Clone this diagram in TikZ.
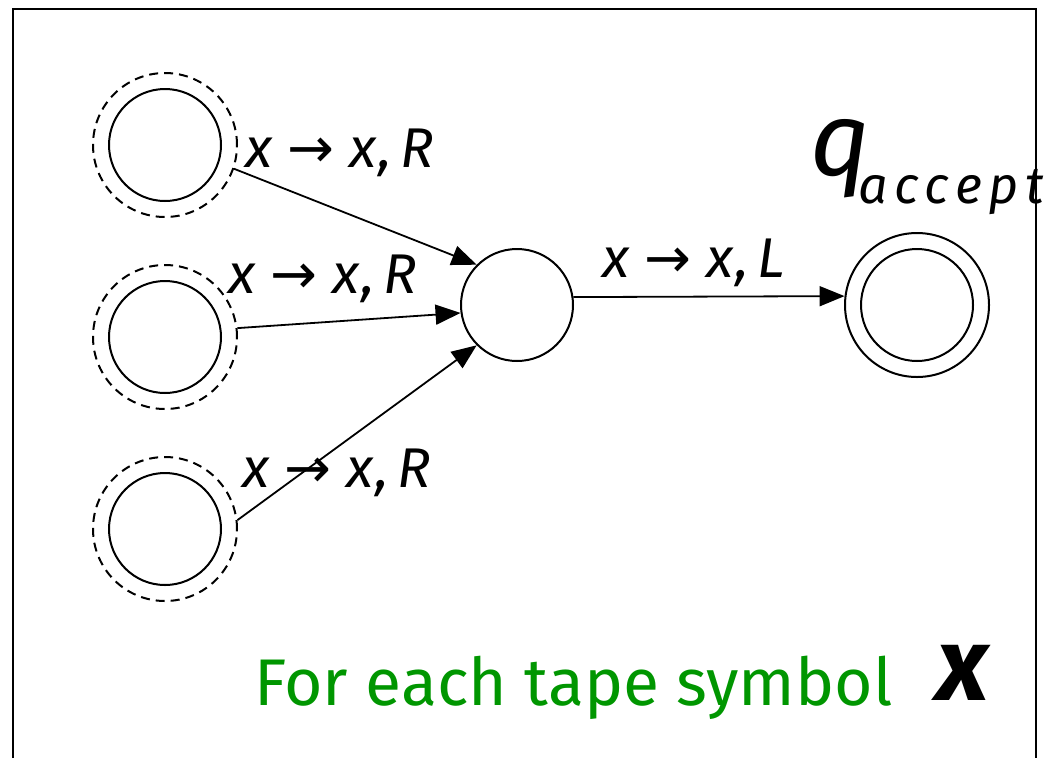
\documentclass[tikz,border=0pt]{standalone}
\usepackage{fontspec}
\setmainfont{Fira Sans}
\newfontfamily\arrowfont{DejaVu Sans}
\usetikzlibrary{arrows.meta}
\definecolor{labgreen}{RGB}{0,150,0}
\newcommand\trlab[1]{\fontsize{56}{56}\selectfont\itshape x\hspace{15pt}{\arrowfont →}\hspace{15pt}x\hspace{3pt},\hspace{8pt}#1}
\tikzset{
  stin/.style={circle,draw,line width=2pt,minimum size=112pt,inner sep=0pt},
  stout/.style={circle,draw,line width=2pt,minimum size=144pt,inner sep=0pt},
  stdash/.style={stout,dash pattern=on 9pt off 6pt},
  edge/.style={draw,line width=1.8pt,-{Triangle[length=25pt,width=20pt]}},
  lab/.style={inner sep=0pt,anchor=base west},
}
\begin{document}
\begin{tikzpicture}[x=1pt,y=-1pt]
\useasboundingbox (0,0) rectangle (1056,758);
\draw[line width=2.4pt] (13,758) -- (13,9) -- (1036,9) -- (1036,758);
% left states
\node[stdash] (o1) at (165,145) {};
\node[stin]   (i1) at (165,145) {};
\node[stdash] (o2) at (165,337) {};
\node[stin]   (i2) at (165,337) {};
\node[stdash] (o3) at (165,529) {};
\node[stin]   (i3) at (165,529) {};
% middle state
\node[stin] (m) at (517,305) {};
% accept state
\node[stout] (ao) at (917,305) {};
\node[stin]  (ai) at (917,305) {};
% edges
\draw[edge] (o1.-19) -- (m.135);
\draw[edge] (o2.7) -- (m.188);
\draw[edge] (o3.7) -- (m.225);
\draw[edge] (m.8) -- (ao.173);
% labels
\node[lab] (l1) at (245,167) {\trlab{R}};
\node[lab] (l2) at (228,293) {\trlab{R}};
\node[lab] (l3) at (242,487) {\trlab{R}};
\node[lab] (l4) at (602,277) {\trlab{L}};
\node[lab] (q) at (810,175) {\fontsize{104}{104}\selectfont\itshape q};
\node[lab] (qs) at (858,203) {\fontsize{52}{52}\selectfont\itshape\addfontfeature{LetterSpace=13}accept};
\node[lab,text=labgreen] (txt) at (254,705) {\fontsize{66}{66}\selectfont For each tape symbol};
\node[lab] (xs) at (936,700) {\fontsize{104}{104}\selectfont\bfseries\itshape x};
\end{tikzpicture}
\end{document}
